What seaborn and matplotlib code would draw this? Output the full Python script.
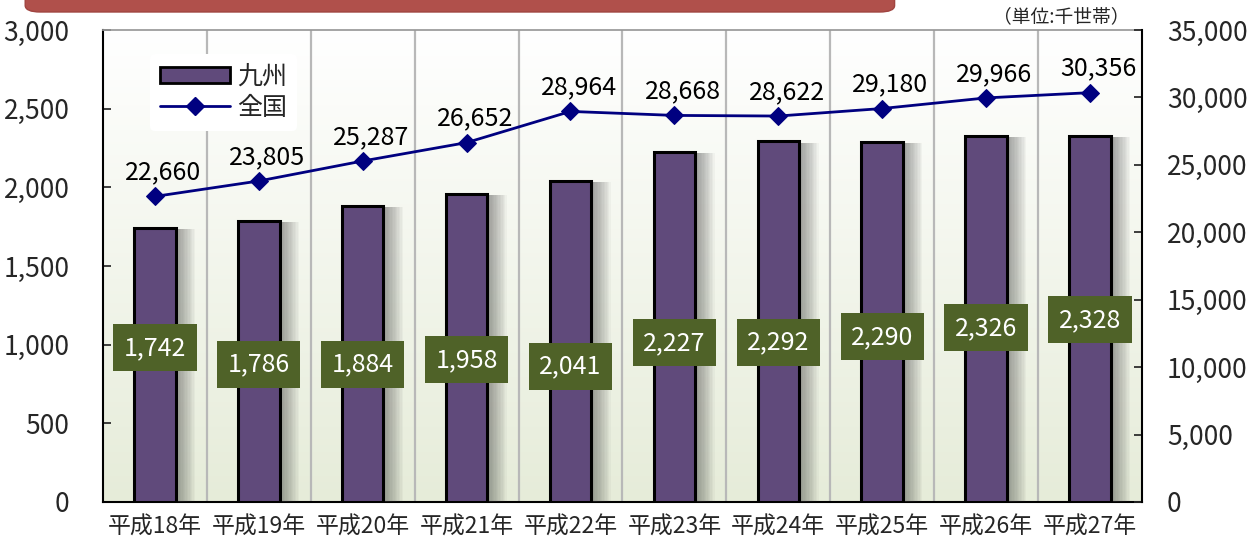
import numpy as np
import pandas as pd
import matplotlib
matplotlib.use('Agg')
import matplotlib.pyplot as plt
import matplotlib.patheffects as pe
from matplotlib.patches import FancyBboxPatch, Patch
from matplotlib.lines import Line2D
from matplotlib.ticker import FuncFormatter, MultipleLocator
import seaborn as sns

# 年次・九州・全国（千世帯）
years = ['平成18年', '平成19年', '平成20年', '平成21年', '平成22年',
         '平成23年', '平成24年', '平成25年', '平成26年', '平成27年']
kyushu = [1742, 1786, 1884, 1958, 2041, 2227, 2292, 2290, 2326, 2328]
zenkoku = [22660, 23805, 25287, 26652, 28964, 28668, 28622, 29180, 29966, 30356]

# 九州ラベルの縦位置（左軸の単位）
label_y = [980, 877, 877, 903, 864, 1011, 1017, 1049, 1106, 1157]

sns.set_theme(style='white')
plt.rcParams['font.family'] = ['Noto Sans CJK JP', 'DejaVu Sans']
plt.rcParams['axes.unicode_minus'] = False

df = pd.DataFrame({'year': years, 'kyushu': kyushu, 'zenkoku': zenkoku})
fmt = FuncFormatter(lambda v, p: f'{int(v):,}')

fig = plt.figure(figsize=(12.6, 5.45), dpi=100)
ax = fig.add_axes([0.0817, 0.0789, 0.8246, 0.866])
ax.set_facecolor('none')

# 背景グラデーション
grad = np.linspace(0, 1, 256).reshape(-1, 1)
cmap = matplotlib.colors.LinearSegmentedColormap.from_list('bg', ['#ffffff', '#e6ecd9'])
ax.imshow(grad, extent=[0, 1, 0, 1], transform=ax.transAxes, aspect='auto',
          cmap=cmap, zorder=0)

sns.barplot(data=df, x='year', y='kyushu', ax=ax, color='#604a7b', width=0.4,
            edgecolor='black', linewidth=2.2, saturation=1, zorder=3)
# ぼかし風の影
shadow = [pe.SimplePatchShadow(offset=(k, -1), shadow_rgbFace='#444444', alpha=0.045)
          for k in range(14, 0, -1)]
for bar in ax.patches:
    bar.set_path_effects(shadow + [pe.Normal()])

for i, v in enumerate(kyushu):
    ax.text(i, label_y[i], f'{v:,}', ha='center', va='center', color='white', fontsize=18,
            zorder=5, bbox=dict(boxstyle='square,pad=0.42', fc='#4f6228', ec='none'))

ax.set_xlim(-0.5, len(years) - 0.5)
ax.set_ylim(0, 3000)
ax.yaxis.set_major_locator(MultipleLocator(500))
ax.yaxis.set_major_formatter(fmt)
ax.set_xticks(np.arange(len(years) - 1) + 0.5, minor=True)
ax.grid(which='minor', axis='x', color='#b8b8b8', linewidth=1.6, zorder=1)
ax.tick_params(axis='x', which='major', length=0, pad=10, labelsize=16.5)
ax.tick_params(axis='x', which='minor', direction='in', length=6, color='#555555')
ax.tick_params(axis='y', direction='in', length=6, pad=24, labelsize=19, left=True)
ax.set_xlabel('')
ax.set_ylabel('')
for s in ['left', 'bottom']:
    ax.spines[s].set_color('black')
    ax.spines[s].set_linewidth(1.5)
ax.spines['top'].set_color('#999999')
ax.spines['right'].set_visible(False)

ax2 = ax.twinx()
sns.lineplot(x=np.arange(len(years)), y=zenkoku, ax=ax2, color='#000080', linewidth=2,
             marker='D', markersize=9, markeredgecolor='#000080', zorder=6)
for i, v in enumerate(zenkoku):
    ax2.annotate(f'{v:,}', (i, v), xytext=(6, 8), textcoords='offset points',
                 ha='center', va='bottom', fontsize=18, color='black')
ax2.set_ylim(0, 35000)
ax2.yaxis.set_major_locator(MultipleLocator(5000))
ax2.yaxis.set_major_formatter(fmt)
ax2.tick_params(axis='y', direction='in', length=6, pad=18, labelsize=19, right=True)
ax2.spines['right'].set_color('black')
ax2.spines['right'].set_linewidth(1.5)
ax2.spines['top'].set_visible(False)
ax2.spines['left'].set_visible(False)
ax2.spines['bottom'].set_visible(False)

# 凡例
handles = [Patch(facecolor='#604a7b', edgecolor='black', linewidth=2),
           Line2D([], [], color='#000080', linewidth=2, marker='D', markersize=9)]
leg = ax2.legend(handles, ['九州', '全国'], loc='upper left', bbox_to_anchor=(0.045, 0.95),
                 fontsize=18, frameon=True, facecolor='white', edgecolor='none', framealpha=1,
                 handlelength=2.8, handleheight=0.6, borderpad=0.4, labelspacing=0.2,
                 handletextpad=0.3, borderaxespad=0)
leg.get_frame().set_linewidth(0)

# 上部の帯と単位
fig.patches.append(FancyBboxPatch((0.02, 0.978), 0.69, 0.06, boxstyle='round,pad=0,rounding_size=0.012',
                                  transform=fig.transFigure, fc='#b0504b', ec='#a04440', lw=1))
fig.text(0.842, 0.97, '（単位:千世帯）', ha='center', va='center', fontsize=13.5)

fig.savefig('out.png', dpi=100)
